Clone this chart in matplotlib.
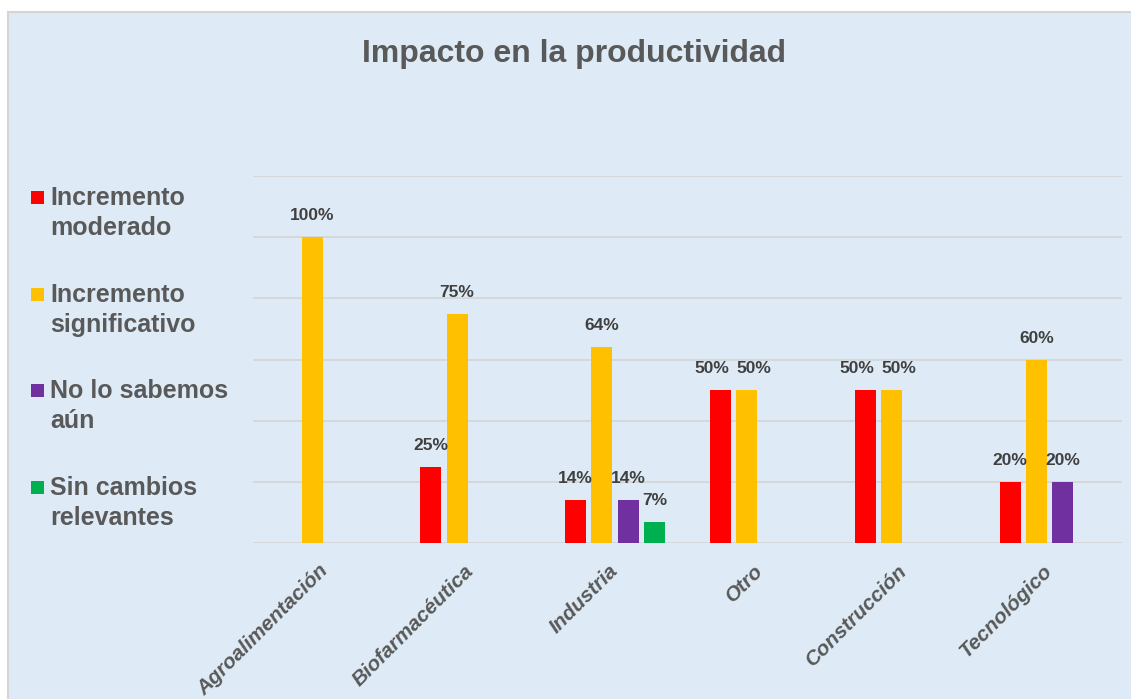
import matplotlib
matplotlib.use("Agg")
import matplotlib.pyplot as plt
from matplotlib.patches import Rectangle
import numpy as np

plt.rcParams['font.family'] = ['Liberation Sans', 'DejaVu Sans']

categories = ['Agroalimentación', 'Biofarmacéutica', 'Industria', 'Otro', 'Construcción', 'Tecnológico']
series_names = [['Incremento', 'moderado'], ['Incremento', 'significativo'],
                ['No lo sabemos', 'aún'], ['Sin cambios', 'relevantes']]
moderado = [0, 25, 14, 50, 50, 20]
significativo = [100, 75, 64, 50, 50, 60]
no_sabemos = [0, 0, 14, 0, 0, 20]
sin_cambios = [0, 0, 7, 0, 0, 0]
colors = ['#FF0000', '#FFC000', '#7030A0', '#00B050']
series = [moderado, significativo, no_sabemos, sin_cambios]

W, H = 1131, 699
fig = plt.figure(figsize=(W / 100, H / 100), dpi=100, facecolor='white')

# background panel with thin grey frame (top/left visible)
bg = Rectangle((7.5 / W, -0.05), 1.2, (1 - 11.5 / H) + 0.05, transform=fig.transFigure,
               facecolor='#DEEBF7', edgecolor='#D4D4D4', linewidth=1.5, zorder=-10)
fig.add_artist(bg)

ax = fig.add_axes([253 / W, 1 - 543 / H, 869 / W, 367 / H])
ax.patch.set_visible(False)
for s in ax.spines.values():
    s.set_visible(False)

x = np.arange(len(categories))
spacing = 0.1814
width = 0.145
offsets = [-1.5 * spacing, -0.5 * spacing, 0.5 * spacing, 1.5 * spacing]

nser = len(series)
for si, (vals, col, off) in enumerate(zip(series, colors, offsets)):
    for ci, (xi, v) in enumerate(zip(x, vals)):
        if v == 0:
            continue
        ax.bar(xi + off, v / 100, width=width, color=col, zorder=3)
        # nudge labels apart when an adjacent bar has the same height (as Excel does)
        dx = 0
        if si + 1 < nser and series[si + 1][ci] == v:
            dx -= 6
        if si - 1 >= 0 and series[si - 1][ci] == v:
            dx += 5
        ax.annotate(f'{v}%', (xi + off, v / 100), xytext=(dx, 10), textcoords='offset points',
                    ha='center', va='bottom', fontsize=12.5, fontweight='bold', color='#404040', zorder=4)

ax.set_xlim(-0.5, len(categories) - 0.5)
ax.set_ylim(0, 1.2)
ax.set_yticks(np.arange(0, 1.21, 0.2))
ax.set_yticklabels([])
ax.tick_params(axis='y', length=0)
ax.yaxis.grid(True, color='#D5D5D5', linewidth=1.3, zorder=0)
ax.set_axisbelow(True)

ax.set_xticks(x)
ax.set_xticklabels(categories, rotation=45, ha='right', va='center', rotation_mode='anchor',
                   fontsize=15, fontweight='bold', fontstyle='italic', color='#595959')
ax.tick_params(axis='x', length=0, pad=18)

fig.text(574.5 / W, 1 - 62 / H, 'Impacto en la productividad', ha='center', va='baseline',
         fontsize=23, fontweight='bold', color='#595959')

# legend drawn manually (marker aligned with first line)
base_y = [205, 302, 398, 495]
for names, col, by in zip(series_names, colors, base_y):
    fig.add_artist(Rectangle((31 / W, 1 - 204 / H + (205 - by) / H), 13 / W, 13 / H,
                             transform=fig.transFigure, facecolor=col, edgecolor='none'))
    fig.text(50 / W, 1 - by / H, names[0], ha='left', va='baseline', fontsize=18,
             fontweight='bold', color='#595959')
    fig.text(50 / W, 1 - (by + 30) / H, names[1], ha='left', va='baseline', fontsize=18,
             fontweight='bold', color='#595959')

fig.savefig('out.png', dpi=100, facecolor=fig.get_facecolor())
